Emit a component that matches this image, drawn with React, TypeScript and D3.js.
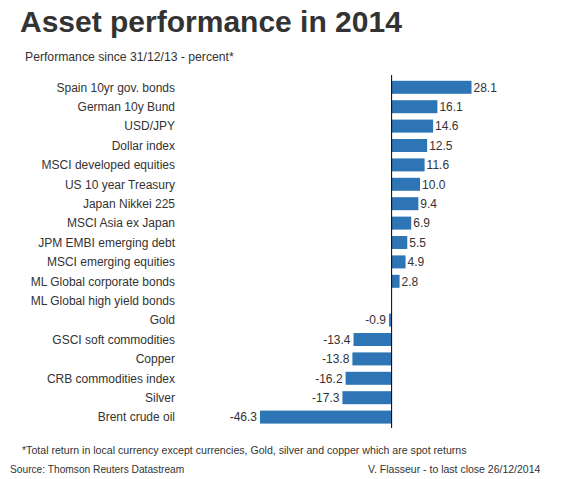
import { useEffect, useRef } from 'react';
import * as d3 from 'd3';

const categories = [
  'Spain 10yr gov. bonds',
  'German 10y Bund',
  'USD/JPY',
  'Dollar index',
  'MSCI developed equities',
  'US 10 year Treasury',
  'Japan Nikkei 225',
  'MSCI Asia ex Japan',
  'JPM EMBI emerging debt',
  'MSCI emerging equities',
  'ML Global corporate bonds',
  'ML Global high yield bonds',
  'Gold',
  'GSCI soft commodities',
  'Copper',
  'CRB commodities index',
  'Silver',
  'Brent crude oil',
];

// null = no value shown in the source chart
const values: (number | null)[] = [
  28.1, 16.1, 14.6, 12.5, 11.6, 10.0, 9.4, 6.9, 5.5, 4.9, 2.8, null, -0.9, -13.4, -13.8, -16.2, -17.3, -46.3,
];

const title = 'Asset performance in 2014';
const subtitle = 'Performance since 31/12/13 - percent*';
const footnote = '*Total return in local currency except currencies, Gold, silver and copper which are spot returns';
const source = 'Source: Thomson Reuters Datastream';
const credit = 'V. Flasseur - to last close 26/12/2014';

const W = 575;
const H = 479;
const font = 'Arial, "Liberation Sans", sans-serif';

const App = () => {
  const svgRef = useRef<SVGSVGElement>(null);

  useEffect(() => {
    if (!svgRef.current) return;
    const svg = d3.select(svgRef.current);
    svg.selectAll('*').remove();

    svg.append('rect').attr('width', W).attr('height', H).attr('fill', '#fff');

    // Titles
    svg.append('text')
      .attr('x', 20).attr('y', 32)
      .style('font-family', font).style('font-size', '30px').style('font-weight', 'bold')
      .attr('fill', '#333')
      .text(title);

    svg.append('text')
      .attr('x', 25).attr('y', 61)
      .style('font-family', font).style('font-size', '12.2px')
      .attr('fill', '#333')
      .text(subtitle);

    const nums = values.filter(v => v !== null) as number[];
    const x = d3.scaleLinear()
      .domain([d3.min(nums) as number, d3.max(nums) as number])
      .range([260, 471.5]);

    const y = d3.scaleBand<string>()
      .domain(categories)
      .range([77.6, 426.8])
      .paddingInner(0.33)
      .paddingOuter(0.165);

    const x0 = x(0);
    const fmt = (v: number) => d3.format('.1f')(v).replace('\u2212', '-');

    // Category labels
    svg.append('g')
      .selectAll('text')
      .data(categories)
      .enter()
      .append('text')
      .attr('x', 175)
      .attr('y', d => (y(d) as number) + y.bandwidth() / 2)
      .attr('dy', '0.35em')
      .attr('text-anchor', 'end')
      .style('font-family', font).style('font-size', '12px')
      .attr('fill', '#333')
      .text(d => d);

    const rows = categories
      .map((c, i) => ({ c, v: values[i] }))
      .filter(d => d.v !== null) as { c: string; v: number }[];

    // Bars
    svg.append('g')
      .selectAll('rect')
      .data(rows)
      .enter()
      .append('rect')
      .attr('x', d => Math.min(x(d.v), x0))
      .attr('y', d => y(d.c) as number)
      .attr('width', d => Math.abs(x(d.v) - x0))
      .attr('height', y.bandwidth())
      .attr('fill', '#2E75B6');

    // Value labels
    svg.append('g')
      .selectAll('text')
      .data(rows)
      .enter()
      .append('text')
      .attr('x', d => (d.v >= 0 ? x(d.v) + 2 : x(d.v) - 3))
      .attr('y', d => (y(d.c) as number) + y.bandwidth() / 2)
      .attr('dy', '0.35em')
      .attr('text-anchor', d => (d.v >= 0 ? 'start' : 'end'))
      .style('font-family', font).style('font-size', '12px')
      .attr('fill', '#333')
      .text(d => fmt(d.v));

    // Zero axis
    svg.append('line')
      .attr('x1', x0).attr('x2', x0)
      .attr('y1', 75).attr('y2', 428)
      .attr('stroke', '#000').attr('stroke-width', 1);

    // Footer
    svg.append('text')
      .attr('x', 22).attr('y', 454)
      .style('font-family', font).style('font-size', '10.6px')
      .attr('fill', '#333')
      .text(footnote);

    svg.append('text')
      .attr('x', 10).attr('y', 473)
      .style('font-family', font).style('font-size', '10.2px')
      .attr('fill', '#333')
      .text(source);

    svg.append('text')
      .attr('x', 368).attr('y', 473)
      .style('font-family', font).style('font-size', '10.5px')
      .attr('fill', '#333')
      .text(credit);
  }, []);

  return (
    <svg
      ref={svgRef}
      width={W}
      height={H}
      style={{ position: 'absolute', left: 0, top: 0, display: 'block' }}
    />
  );
};

export default App;
